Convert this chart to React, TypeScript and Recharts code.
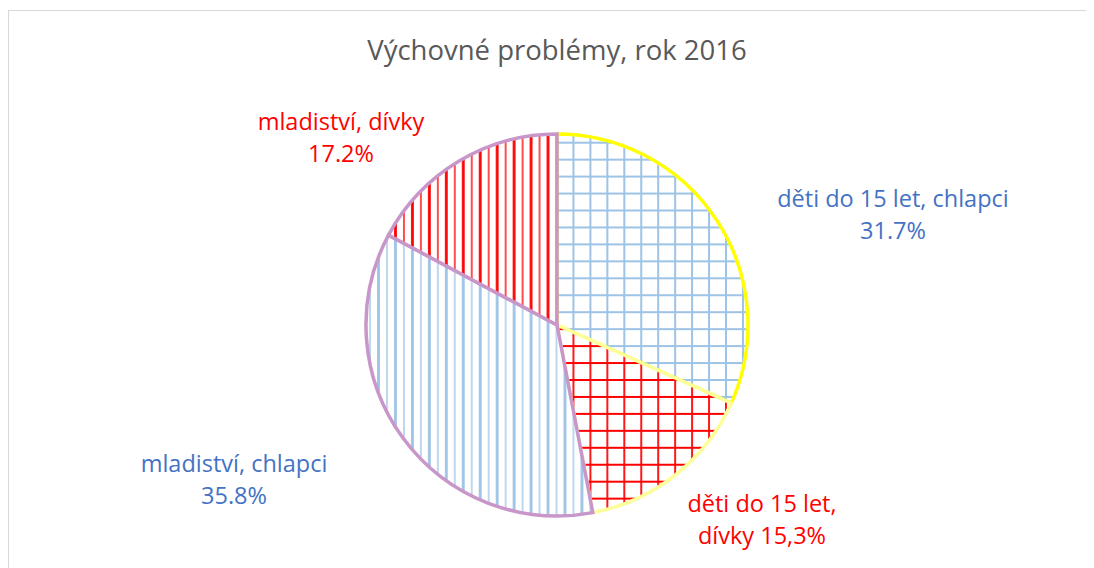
import { PieChart, Pie, Cell } from 'recharts'

// Výchovné problémy, rok 2016 – share of cases per group
const categories = ['děti do 15 let, chlapci', 'děti do 15 let, dívky', 'mladiství, chlapci', 'mladiství, dívky']
const shares = [31.7, 15.3, 35.8, 17.2]
const labelLines = [
    ['děti do 15 let, chlapci', '31.7%'],
    ['děti do 15 let,', 'dívky 15,3%'],
    ['mladiství, chlapci', '35.8%'],
    ['mladiství, dívky', '17.2%'],
]

const fills = ['url(#gridBlue)', 'url(#gridRed)', 'url(#stripeBlue)', 'url(#stripeRed)']
const strokes = ['#FFFF00', '#FFFF99', '#C896C8', '#C896C8']
const labelColors = ['#4472C4', '#FF0000', '#4472C4', '#FF0000']
// label offset (first line baseline) from the pie centre
const labelOffsets = [
    { dx: 336, dy: -118 },
    { dx: 205, dy: 187 },
    { dx: -323, dy: 147 },
    { dx: -216, dy: -195 },
]

const data = categories.map((name, i) => ({ name, value: shares[i] }))

const STEP = 16.95
const FONT = '"Open Sans", Lato, sans-serif'

const renderLabel = (props: any) => {
    const { cx, cy, index } = props
    const off = labelOffsets[index]
    return (
        <text
            x={cx + off.dx}
            y={cy + off.dy}
            textAnchor="middle"
            fill={labelColors[index]}
            fontSize={23.5}
            fontFamily={FONT}
        >
            {labelLines[index].map((line, j) => (
                <tspan key={j} x={cx + off.dx} dy={j === 0 ? 0 : 31.5}>
                    {line}
                </tspan>
            ))}
        </text>
    )
}

const App = () => (
    <div style={{ position: 'relative', width: 1086, height: 560, overflow: 'hidden', fontFamily: FONT }}>
        <div
            style={{
                position: 'absolute',
                left: 0,
                top: 2,
                width: 1200,
                height: 700,
                border: '1.5px solid #d9d9d9',
            }}
        />
        <div style={{ position: 'absolute', left: 0, top: 0 }}>
            <PieChart width={1086} height={560} margin={{ top: 0, right: 0, bottom: 0, left: 0 }}>
                <defs>
                    <pattern id="gridBlue" patternUnits="userSpaceOnUse" x={5.1} y={15.05} width={STEP} height={STEP}>
                        <rect width={STEP} height={STEP} fill="#ffffff" />
                        <path d={`M1 0V${STEP} M0 1H${STEP}`} stroke="#9DC3E6" strokeWidth={2} />
                    </pattern>
                    <pattern id="gridRed" patternUnits="userSpaceOnUse" x={5.1} y={15.05} width={STEP} height={STEP}>
                        <rect width={STEP} height={STEP} fill="#ffffff" />
                        <path d={`M1 0V${STEP} M0 1H${STEP}`} stroke="#FF0000" strokeWidth={1.8} />
                    </pattern>
                    <pattern id="stripeBlue" patternUnits="userSpaceOnUse" x={5.1} y={0} width={STEP} height={STEP}>
                        <rect width={STEP} height={STEP} fill="#ffffff" />
                        <path d={`M1 0V${STEP}`} stroke="#A9CAEA" strokeWidth={1.5} />
                        <path d={`M${1 + STEP / 2} 0V${STEP}`} stroke="#9DC3E6" strokeWidth={2.8} />
                    </pattern>
                    <pattern id="stripeRed" patternUnits="userSpaceOnUse" x={5.1} y={0} width={STEP} height={STEP}>
                        <rect width={STEP} height={STEP} fill="#ffffff" />
                        <path d={`M1 0V${STEP}`} stroke="#FF0000" strokeWidth={1.4} />
                        <path d={`M${1 + STEP / 2} 0V${STEP}`} stroke="#FF0000" strokeWidth={2.8} />
                    </pattern>
                </defs>
                <text x={549} y={52} textAnchor="middle" fill="#595959" fontSize={27.5} fontFamily={FONT}>
                    Výchovné problémy, rok 2016
                </text>
                <Pie
                    data={data}
                    dataKey="value"
                    nameKey="name"
                    cx={549}
                    cy={317}
                    innerRadius={0}
                    outerRadius={191}
                    startAngle={90}
                    endAngle={-270}
                    label={renderLabel}
                    labelLine={false}
                    isAnimationActive={false}
                >
                    {data.map((entry, index) => (
                        <Cell key={`cell-${index}`} fill={fills[index]} stroke={strokes[index]} strokeWidth={3.5} />
                    ))}
                </Pie>
            </PieChart>
        </div>
    </div>
)

export default App
